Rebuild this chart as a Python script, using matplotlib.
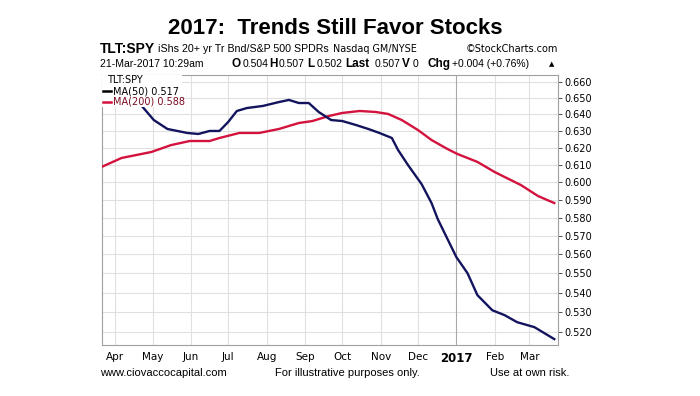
import matplotlib
matplotlib.use("Agg")
import matplotlib.pyplot as plt
import matplotlib.dates as mdates
from matplotlib.ticker import FixedLocator, FixedFormatter, NullLocator
from matplotlib.patches import Rectangle
import numpy as np
import pandas as pd

# MA(200) of TLT:SPY ratio
ma200_dates = ['2016-03-21', '2016-04-06', '2016-04-30', '2016-05-16', '2016-05-31',
               '2016-06-16', '2016-06-24', '2016-07-10', '2016-07-26', '2016-08-11',
               '2016-08-27', '2016-09-07', '2016-09-20', '2016-10-01', '2016-10-15',
               '2016-10-28', '2016-11-07', '2016-11-18', '2016-12-01', '2016-12-12',
               '2016-12-25', '2017-01-02', '2017-01-18', '2017-02-01', '2017-02-22',
               '2017-03-08', '2017-03-21']
ma200 = [0.6087, 0.6139, 0.6174, 0.6215, 0.6239, 0.6239, 0.6257, 0.6287, 0.6287, 0.6311,
         0.6347, 0.6359, 0.6389, 0.6408, 0.6420, 0.6414, 0.6402, 0.6365, 0.6305, 0.6245,
         0.6191, 0.6162, 0.6116, 0.6057, 0.5983, 0.5920, 0.5881]

# MA(50)
ma50_dates = ['2016-03-21', '2016-04-05', '2016-04-15', '2016-04-23', '2016-05-02',
              '2016-05-13', '2016-05-29', '2016-06-07', '2016-06-16', '2016-06-24',
              '2016-07-01', '2016-07-08', '2016-07-16', '2016-07-29', '2016-08-11',
              '2016-08-19', '2016-08-27', '2016-09-04', '2016-09-12', '2016-09-22',
              '2016-10-01', '2016-10-12', '2016-10-22', '2016-10-31', '2016-11-10',
              '2016-11-15', '2016-11-23', '2016-12-04', '2016-12-12', '2016-12-17',
              '2017-01-01', '2017-01-10', '2017-01-18', '2017-01-30', '2017-02-09',
              '2017-02-19', '2017-03-05', '2017-03-21']
ma50 = [0.6625, 0.6590, 0.6525, 0.6445, 0.6365, 0.6311, 0.6287, 0.6281, 0.6299, 0.6299,
        0.6353, 0.6420, 0.6438, 0.6451, 0.6475, 0.6488, 0.6469, 0.6469, 0.6414, 0.6365,
        0.6359, 0.6335, 0.6311, 0.6287, 0.6257, 0.6186, 0.6098, 0.5988, 0.5881, 0.5792,
        0.5586, 0.5501, 0.5387, 0.5310, 0.5285, 0.5250, 0.5225, 0.5166]

month_starts = ['2016-04-01', '2016-05-01', '2016-06-01', '2016-07-01', '2016-08-01',
                '2016-09-01', '2016-10-01', '2016-11-01', '2016-12-01', '2017-01-01',
                '2017-02-01', '2017-03-01']
month_labels = ['Apr', 'May', 'Jun', 'Jul', 'Aug', 'Sep', 'Oct', 'Nov', 'Dec', '2017',
                'Feb', 'Mar']
y_ticks = [0.52, 0.53, 0.54, 0.55, 0.56, 0.57, 0.58, 0.59, 0.60, 0.61, 0.62, 0.63,
           0.64, 0.65, 0.66]

W, H = 700, 396
fig = plt.figure(figsize=(W / 100, H / 100), dpi=100)
ax = fig.add_axes([101.7 / W, 1 - 345 / H, (558 - 101.7) / W, (345 - 75) / H])

d50 = pd.to_datetime(ma50_dates)
d200 = pd.to_datetime(ma200_dates)
ax.plot(d200, ma200, color='#d3123d', lw=1.7, zorder=3)
ax.plot(d50, ma50, color='#14145e', lw=1.7, zorder=3)

ax.set_yscale('log')
ax.set_ylim(0.5137, 0.6644)
ax.set_xlim(pd.Timestamp('2016-03-21'), pd.Timestamp('2017-03-24'))

ax.yaxis.tick_right()
ax.yaxis.set_major_locator(FixedLocator(y_ticks))
ax.yaxis.set_major_formatter(FixedFormatter(['%.3f' % v for v in y_ticks]))
ax.yaxis.set_minor_locator(NullLocator())
ax.tick_params(axis='y', length=3, pad=1.5, labelsize=7, colors='#333333', width=0.6)
for t in ax.get_yticklabels():
    t.set_color('black')

mx = mdates.date2num(pd.to_datetime(month_starts))
ax.set_xticks(mx)
ax.set_xticklabels(month_labels)
ax.tick_params(axis='x', length=0, pad=5, labelsize=7.5)
for t in ax.get_xticklabels():
    if t.get_text() == '2017':
        t.set_fontweight('bold')
        t.set_fontsize(8.5)

# grid
for yv in y_ticks:
    ax.axhline(yv, color='#e0e0e0', lw=0.8, zorder=1)
for i, xv in enumerate(mx):
    c = '#a8a8a8' if month_labels[i] == '2017' else '#e0e0e0'
    ax.axvline(xv, color=c, lw=0.8, zorder=1)

for s in ax.spines.values():
    s.set_color('#a0a0a0')
    s.set_linewidth(0.8)

# legend block (white background hides line beneath)
ax.add_patch(Rectangle((0, 1 - 32 / 270), 80 / 456, 32 / 270, transform=ax.transAxes,
                       facecolor='white', edgecolor='none', zorder=4))
def px(x, y):
    return x / W, 1 - y / H

fig.text(*px(107, 80), 'TLT:SPY', fontsize=7, va='center', ha='left', zorder=5,
         family='DejaVu Sans')
fig.text(*px(113, 91), 'MA(50) 0.517', fontsize=7, va='center', ha='left',
         family='DejaVu Sans')
fig.text(*px(113, 102), 'MA(200) 0.588', fontsize=7, va='center', ha='left',
         color='#7a0a1e', family='DejaVu Sans')
fig.add_artist(plt.Line2D([103 / W, 111 / W], [1 - 91 / H] * 2, color='black', lw=1.8))
fig.add_artist(plt.Line2D([103 / W, 111 / W], [1 - 102 / H] * 2, color='#d3123d', lw=1.8))

# title & header
fig.text(*px(335, 28), '2017:  Trends Still Favor Stocks', fontsize=16,
         fontweight='bold', ha='center', va='center', family='Liberation Sans')
hf = 'Liberation Sans'
fig.text(*px(100, 49), 'TLT:SPY', fontsize=10, fontweight='bold', va='center', family=hf)
fig.text(*px(158, 49), 'iShs 20+ yr Tr Bnd/S&P 500 SPDRs', fontsize=7.7, va='center', family=hf)
fig.text(*px(333, 49), 'Nasdaq GM/NYSE', fontsize=6.9, va='center', family='DejaVu Sans')
fig.text(*px(558, 49), '\u00a9StockCharts.com', fontsize=7, va='center', ha='right',
         family='DejaVu Sans')

fig.text(*px(100, 64), '21-Mar-2017 10:29am', fontsize=7.5, va='center', family=hf)
pieces = [(232, 'O', True), (243, '0.504', False), (269, 'H', True), (279, '0.507', False),
          (307, 'L', True), (317, '0.502', False), (345, 'Last', True), (375, '0.507', False),
          (402, 'V', True), (413, '0', False), (427, 'Chg', True),
          (452, '+0.004 (+0.76%)', False)]
for x, s, b in pieces:
    fig.text(*px(x, 64), s, fontsize=8.5 if b else 7.5, fontweight='bold' if b else 'normal',
             va='center', family=hf)
fig.text(*px(552, 64), '\u25b2', fontsize=5, va='center', ha='center', family='DejaVu Sans')

# footer
fig.text(*px(100, 373), 'www.ciovaccocapital.com', fontsize=8, va='center', family=hf)
fig.text(*px(275, 373), 'For illustrative purposes only.', fontsize=8, va='center', family=hf)
fig.text(*px(490, 373), 'Use at own risk.', fontsize=8, va='center', family=hf)

fig.savefig('out.png', dpi=100)
